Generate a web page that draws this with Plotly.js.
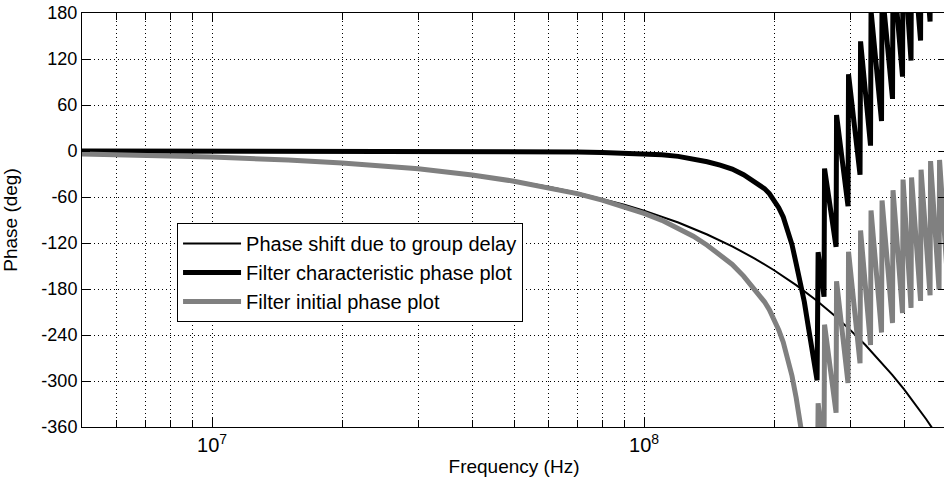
<!DOCTYPE html>
<html>
<head>
<meta charset="utf-8">
<script src="https://cdn.plot.ly/plotly-3.0.1.min.js"></script>
<style>
  html, body { margin: 0; padding: 0; overflow: hidden; background: #fff; }
  #chart { width: 948px; height: 481px; }
</style>
</head>
<body>
<div id="chart"></div>
<script>
// ---- Data ----
// Phase shift due to group delay (thin black line)
const freqDelay = [5e6, 7e6, 1e7, 1.5e7, 2e7, 3e7, 4e7, 5e7, 6e7, 7e7, 8e7, 9e7, 1e8,
  1.2e8, 1.4e8, 1.6e8, 1.8e8, 2e8, 2.25e8, 2.5e8, 2.75e8, 3e8, 3.25e8, 3.5e8, 3.75e8,
  4e8, 4.25e8, 4.5e8, 4.75e8, 5e8];
const phaseDelay = [-3.9, -5.4, -7.8, -11.7, -15.6, -23.3, -31.1, -38.9, -46.7, -54.4, -62.2, -70.0, -77.8,
  -93.3, -108.9, -124.4, -140.0, -155.5, -175.0, -194.4, -213.8, -233.3, -252.7, -272.2, -291.6,
  -311.0, -330.5, -349.9, -369.4, -388.8];

// Frequencies shared by the two filter phase curves
const freqFilter = [5e6, 7e6, 1e7, 1.5e7, 2e7, 3e7, 4e7, 5e7, 6e7, 7e7, 8e7, 9e7, 1e8,
  1.1e8, 1.2e8, 1.3e8, 1.4e8, 1.5e8, 1.6e8, 1.7e8, 1.8e8, 1.9e8, 1.95e8, 2.0e8, 2.05e8,
  2.1e8, 2.15e8, 2.2e8, 2.25e8, 2.3e8, 2.35e8, 2.4e8, 2.45e8, 2.515e8,
  2.529e8, 2.610e8, 2.617e8, 2.783e8, 2.790e8, 2.966e8, 2.974e8, 3.162e8, 3.171e8,
  3.344e8, 3.353e8, 3.546e8, 3.556e8, 3.760e8, 3.770e8, 3.966e8, 3.977e8, 4.150e8, 4.161e8,
  4.366e8, 4.378e8, 4.593e8, 4.605e8, 4.818e8, 4.831e8, 5.055e8];

// Filter characteristic phase plot (thick black line)
const phaseCharacteristic = [0, 0, 0, 0, 0, 0, -0.3, -0.5, -0.8, -1.2, -1.8, -2.6, -3.6,
  -5, -7, -10, -14, -18.5, -23.5, -31, -39.5, -49, -55.5, -64, -74,
  -86, -102, -122, -147, -172, -197, -229, -258, -299,
  -132, -190, -23, -125, 47, -72, 100, -31, 143,
  7, 183, 39, 212, 68, 242, 97, 272, 118, 289,
  144, 316, 169, 345, 194, 364, 215];

// Filter initial phase plot (thick grey line)
const phaseInitial = [-3.9, -5.4, -7.8, -11.7, -15.6, -23.3, -31.4, -39.4, -47.5, -55.6, -64.0, -72.6, -81.4,
  -90.5, -100.3, -111.1, -122.9, -135.1, -147.9, -163.2, -179.5, -196.7, -207.1, -219.5, -233.4,
  -249.3, -269.2, -293.1, -322.0, -350.8, -379.7, -415.6, -448.5, -494.6,
  -329, -393, -226.5, -341.4, -170, -302.6, -131.3, -276.9, -103.6,
  -253, -77.7, -236.7, -64.5, -224.4, -51.2, -211.4, -37.3, -204.7, -34.6,
  -195.5, -24.4, -188.1, -13.1, -180.7, -11.7, -178];

const seriesNames = ['Phase shift due to group delay', 'Filter characteristic phase plot', 'Filter initial phase plot'];

// Axis ticks
const xMajorVals = [1e7, 1e8];
const xMajorText = ['10<sup>7</sup>', '10<sup>8</sup>'];
const xMinorVals = [6e6, 7e6, 8e6, 9e6, 2e7, 3e7, 4e7, 5e7, 6e7, 7e7, 8e7, 9e7, 2e8, 3e8, 4e8];
const yTickVals = [-360, -300, -240, -180, -120, -60, 0, 60, 120, 180];
const yTickText = ['-360', '-300', '-240', '-180', '-120', '-60', '0', '60', '120', '180'];

const FONT = 'Liberation Sans, Arial, Helvetica, sans-serif';

const traces = [
  { x: freqDelay, y: phaseDelay, name: seriesNames[0], type: 'scatter', mode: 'lines',
    line: { color: '#000000', width: 2 } },
  { x: freqFilter, y: phaseCharacteristic, name: seriesNames[1], type: 'scatter', mode: 'lines',
    line: { color: '#000000', width: 5 } },
  { x: freqFilter, y: phaseInitial, name: seriesNames[2], type: 'scatter', mode: 'lines',
    line: { color: '#808080', width: 5 } }
];

const gridStyle = { showgrid: true, gridcolor: '#000000', gridwidth: 1, griddash: '1px,3px' };

const layout = {
  width: 948, height: 481,
  margin: { l: 82, r: 2, t: 13, b: 54, pad: 0 },
  paper_bgcolor: '#ffffff', plot_bgcolor: '#ffffff',
  font: { family: FONT, size: 18, color: '#000000' },
  showlegend: true,
  legend: {
    x: 0.110, y: 0.4928, xanchor: 'left', yanchor: 'top',
    bgcolor: '#ffffff', bordercolor: '#000000', borderwidth: 1,
    font: { family: FONT, size: 20, color: '#000000' },
    itemwidth: 58,
    tracegroupgap: 0
  },
  xaxis: Object.assign({
    type: 'log',
    range: [Math.log10(5e6), Math.log10(5e8)],
    tickmode: 'array', tickvals: xMajorVals, ticktext: xMajorText,
    ticks: 'inside', ticklen: 9, tickwidth: 1, tickcolor: '#000000',
    showline: true, linecolor: '#000000', linewidth: 1, mirror: 'ticks',
    zeroline: false,
    minor: Object.assign({ tickmode: 'array', tickvals: xMinorVals, ticks: 'inside', ticklen: 7,
      tickwidth: 1, tickcolor: '#000000' }, gridStyle),
    tickfont: { family: FONT, size: 20, color: '#000000' },
    title: { text: 'Frequency (Hz)', font: { family: FONT, size: 19, color: '#000000' }, standoff: 4 }
  }, gridStyle),
  yaxis: Object.assign({
    range: [-360, 180],
    tickmode: 'array', tickvals: yTickVals, ticktext: yTickText,
    ticks: 'inside', ticklen: 8, tickwidth: 1, tickcolor: '#000000',
    showline: true, linecolor: '#000000', linewidth: 1, mirror: 'ticks',
    zeroline: false,
    tickfont: { family: FONT, size: 18, color: '#000000' },
    title: { text: 'Phase (deg)', font: { family: FONT, size: 19, color: '#000000' }, standoff: 18 }
  }, gridStyle)
};

Plotly.newPlot('chart', traces, layout, { displayModeBar: false, staticPlot: true });
</script>
</body>
</html>
